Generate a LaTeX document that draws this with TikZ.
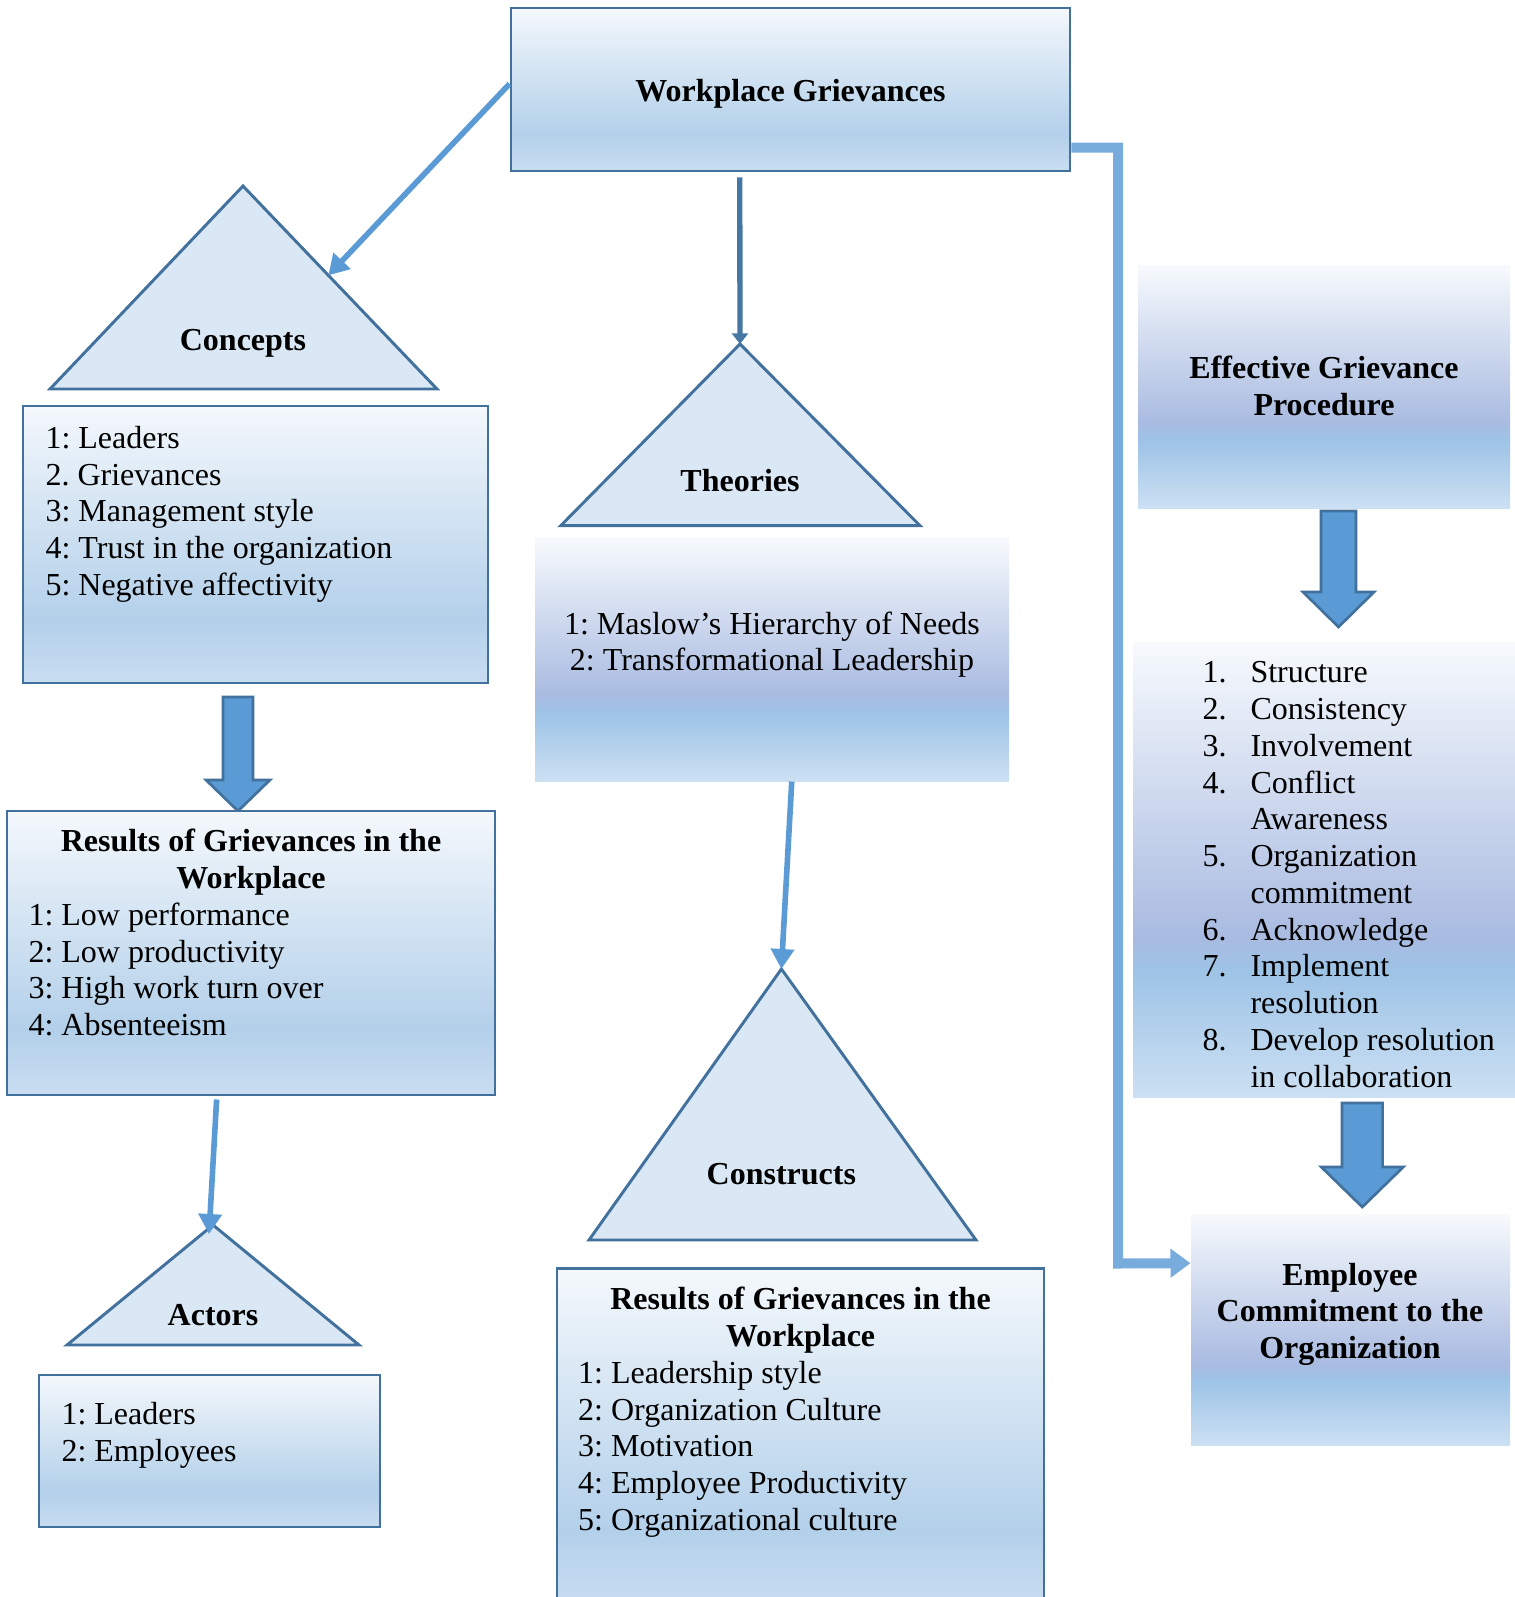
\documentclass[tikz,border=0pt]{standalone}
\usepackage{fontspec}
\setmainfont{Liberation Serif}
\frenchspacing
\usetikzlibrary{arrows.meta,fit,calc}
\definecolor{bordc}{HTML}{41719C}
\definecolor{arrc}{HTML}{5B9BD5}
\definecolor{conc}{HTML}{78ACDC}
\definecolor{trif}{HTML}{DAE7F4}
\definecolor{gAtop}{HTML}{F4F8FC}
\definecolor{gAmid}{HTML}{B3D0EA}
\definecolor{gAbot}{HTML}{C9DDF1}
\definecolor{gBtop}{HTML}{F7FAFD}
\definecolor{gBlav}{HTML}{A9BBE1}
\definecolor{gBblu}{HTML}{9DC3E6}
\definecolor{gBbot}{HTML}{CCE0F3}
\pgfdeclareverticalshading{gradA}{100bp}{color(0bp)=(gAbot); color(25bp)=(gAbot); color(36.5bp)=(gAmid); color(75bp)=(gAtop); color(100bp)=(gAtop)}
\pgfdeclareverticalshading{gradB}{100bp}{color(0bp)=(gBbot); color(25bp)=(gBbot); color(39bp)=(gBblu); color(42.5bp)=(gBlav); color(75bp)=(gBtop); color(100bp)=(gBtop)}
\tikzset{
  boxa/.style={draw=bordc, line width=1.1pt, shade, shading=gradA, inner sep=0pt},
  boxb/.style={shade, shading=gradB, inner sep=0pt},
  tri/.style={draw=bordc, fill=trif, line width=1.1pt, line join=miter},
  txt/.style={inner sep=0pt, font=\fontsize{12pt}{13.78pt}\selectfont},
  btxt/.style={inner sep=0pt, font=\fontsize{12pt}{13.78pt}\selectfont\bfseries},
  thinarr/.style={draw=arrc, line width=2.1pt, -{Triangle[width=8.5pt,length=7.5pt]}},
  thindark/.style={draw=bordc!85!arrc, line width=2pt, -{Triangle[width=6pt,length=4pt]}},
  blk/.style={fill=arrc, draw=bordc, line width=1pt, line join=miter},
  elbow/.style={draw=conc, line width=3.75pt, line join=miter, -{Triangle[width=10.5pt,length=7.5pt]}},
}
\newcommand\blkarr[6]{%
  \path[blk] (#1-#5,#2) -- (#1+#5,#2) -- (#1+#5,#3) -- (#1+#6,#3) -- (#1,#4) -- (#1-#6,#3) -- (#1-#5,#3) -- cycle;}
\begin{document}
\begin{tikzpicture}[x=0.375pt, y=-0.375pt]
\useasboundingbox (0,0) rectangle (1515,1597);
\clip (0,0) rectangle (1515,1597);
\fill[white] (0,0) rectangle (1515,1597);

% ---- top box
\node[boxa, fit={(511,8) (1070,171)}] (wg) {};
\node[btxt, anchor=base] (wgt) at (790.5,101) {Workplace Grievances};

% ---- Concepts
\coordinate (cA) at (243,186);
\coordinate (cL) at (50,389);
\coordinate (cR) at (437,389);
\draw[tri] (cA) -- (cR) -- (cL) -- cycle;
\node[btxt, anchor=base] (concepts) at (243,350) {Concepts};
\node[boxa, fit={(23,406) (488,683)}] (cbox) {};
\node[txt, anchor=base west, align=left] (cboxt) at (45,595.3) {1: Leaders\\2. Grievances\\3: Management style\\4: Trust in the organization\\5: Negative affectivity};

% ---- block arrow concepts -> results
\blkarr{238}{697}{780}{811}{15}{32}

% ---- Results box (left)
\node[boxa, fit={(7,811) (495,1095)}] (rbox) {};
\node[btxt, anchor=base, align=center] (rboxh) at (251,888) {Results of Grievances in the\\Workplace};
\node[txt, anchor=base west, align=left] (rboxt) at (28,1035.5) {1: Low performance\\2: Low productivity\\3: High work turn over\\4: Absenteeism};

% ---- Actors
\coordinate (aA) at (213,1225);
\coordinate (aL) at (67,1345);
\coordinate (aR) at (359,1345);
\draw[tri] (aA) -- (aR) -- (aL) -- cycle;
\node[btxt, anchor=base] (actors) at (213,1325.7) {Actors};
\node[boxa, fit={(39,1375) (380,1527)}] (abox) {};
\node[txt, anchor=base west, align=left] (aboxt) at (61,1461.7) {1: Leaders\\2: Employees};

% ---- Theories
\coordinate (tA) at (740,344);
\coordinate (tL) at (560.7,525.7);
\coordinate (tR) at (920,525.7);
\draw[tri] (tA) -- (tR) -- (tL) -- cycle;
\node[btxt, anchor=base] (theories) at (740,491.7) {Theories};
\node[boxb, fit={(535,537) (1009,781)}] (tbox) {};
\node[txt, anchor=base, align=center] (tboxt) at (772,670.8) {1: Maslow’s Hierarchy of Needs\\2: Transformational Leadership};

% ---- Constructs
\coordinate (kA) at (781.4,969);
\coordinate (kL) at (589,1240);
\coordinate (kR) at (976,1240);
\draw[tri] (kA) -- (kR) -- (kL) -- cycle;
\node[btxt, anchor=base] (constructs) at (781.4,1184) {Constructs};
\node[boxa, fit={(557,1268.4) (1044,1608)}] (kbox) {};
\node[btxt, anchor=base, align=center] (kboxh) at (800.5,1346.7) {Results of Grievances in the\\Workplace};
\node[txt, anchor=base west, align=left] (kboxt) at (577.7,1530.3) {1: Leadership style\\2: Organization Culture\\3: Motivation\\4: Employee Productivity\\5: Organizational culture};

% ---- Effective grievance procedure
\node[boxb, fit={(1138,265) (1510,508)}] (ebox) {};
\node[btxt, anchor=base, align=center] (eboxt) at (1324,415.7) {Effective Grievance\\Procedure};
\blkarr{1338.5}{511}{592}{627}{17.5}{35.5}
\node[boxb, fit={(1133,642) (1515,1097)}] (lbox) {};
\begin{scope}
\clip (1133,642) rectangle (1515,1088);
\node[txt, anchor=base west, align=left] (lboxt) at (1202,1087) {%
\makebox[18pt][l]{1.}Structure\\
\makebox[18pt][l]{2.}Consistency\\
\makebox[18pt][l]{3.}Involvement\\
\makebox[18pt][l]{4.}Conflict\\
\hspace*{18pt}Awareness\\
\makebox[18pt][l]{5.}Organization\\
\hspace*{18pt}commitment\\
\makebox[18pt][l]{6.}Acknowledge\\
\makebox[18pt][l]{7.}Implement\\
\hspace*{18pt}resolution\\
\makebox[18pt][l]{8.}Develop resolution\\
\hspace*{18pt}in collaboration};
\end{scope}
\blkarr{1362.3}{1103}{1167}{1207}{20.3}{41}
\node[boxb, fit={(1191,1214) (1510,1445)}] (pbox) {};
\node[btxt, anchor=base, align=center] (pboxt) at (1350,1358.5) {Employee\\Commitment to the\\Organization};

% ---- connectors
\draw[thinarr] ($(wg.north west)!0.466!(wg.south west)$) -- ($(cA)!0.44!(cR)$);
\draw[thindark] ($(wg.south west)!0.4097!(wg.south east)+(0,5)$) -- (tA);
\draw[thinarr] ($(tbox.south west)!0.5416!(tbox.south east)$) -- (kA);
\draw[thinarr] ($(rbox.south west)!0.43!(rbox.south east)+(0,3)$) -- ($(aA)+(-4,9)$);
\coordinate (r1) at ($(wg.north east)!0.851!(wg.south east)$);
\coordinate (rc) at (1118,1263.5);
\coordinate (r2) at ($(pbox.north west)!0.214!(pbox.south west)$);
\draw[elbow] (r1) -| (rc) -- (r2);
\end{tikzpicture}
\end{document}
